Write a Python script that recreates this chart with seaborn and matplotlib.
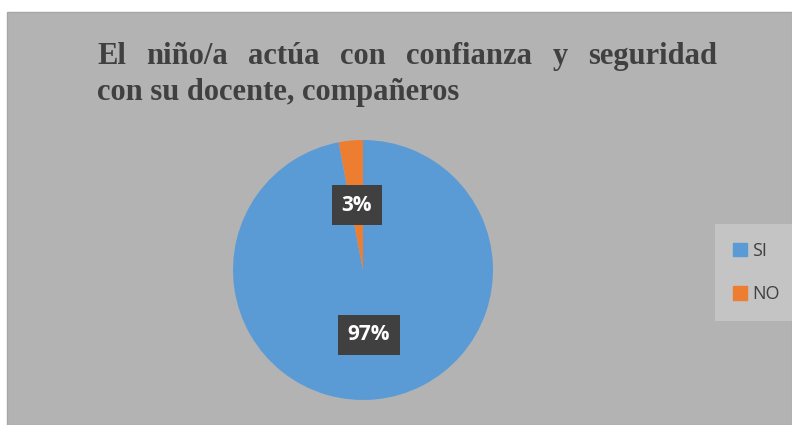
import matplotlib.pyplot as plt
import matplotlib.patches as mpatches
import seaborn as sns

# Data
categories = ["SI", "NO"]
values = [97, 3]
colors = ["#5b9bd5", "#ed7d31"]
title_line1 = "El niño/a actúa con confianza y seguridad"
title_line2 = "con su docente, compañeros"

sns.set_theme(style="white")
plt.rcParams['font.family'] = ['Open Sans', 'DejaVu Sans']

W, H = 792, 425
fig = plt.figure(figsize=(W / 100, H / 100), dpi=100, facecolor="white")

# gray chart area
bg = mpatches.Rectangle((7 / W, 0), 1 - 7 / W, 1 - 12 / H, transform=fig.transFigure,
                        facecolor="#b3b3b3", edgecolor="#a6a6a6", lw=1, zorder=-10)
fig.patches.append(bg)

# pie axes: centre (363, 270), radius 130 px
ax = fig.add_axes([(363 - 130) / W, (H - 400) / H, 260 / W, 260 / H])
ax.set_facecolor("none")
ax.set_zorder(1)
wedges, texts, autotexts = ax.pie(values, colors=colors, startangle=90, counterclock=False,
                                  autopct="%1.0f%%", pctdistance=0.5,
                                  wedgeprops=dict(linewidth=0),
                                  textprops=dict(color="white", fontsize=15, fontweight="bold"))
for t in autotexts:
    t.set_bbox(dict(boxstyle="square,pad=0.45", facecolor="#404040", edgecolor="none"))
ax.set_xlim(-1, 1)
ax.set_ylim(-1, 1)
ax.set_aspect("equal")
ax.axis("off")

# title, first line justified between x=97 and x=717
title_kw = dict(fontsize=22, fontweight="bold", color="#404040",
                family=["Liberation Serif", "DejaVu Serif"], va="baseline")
words = title_line1.split()
fig.canvas.draw()
renderer = fig.canvas.get_renderer()
objs = [fig.text(0, 1 - 64 / H, w, **title_kw) for w in words]
widths = [o.get_window_extent(renderer).width for o in objs]
x0, x1 = 97, 717
gap = (x1 - x0 - sum(widths)) / (len(words) - 1)
x = x0
for o, w in zip(objs, widths):
    o.set_x(x / W)
    x += w + gap
fig.text(x0 / W, 1 - 100 / H, title_line2, **title_kw)

# legend
handles = [mpatches.Patch(color=c, label=l) for c, l in zip(colors, categories)]
leg = fig.legend(handles=handles, loc="upper left", bbox_to_anchor=(715 / W, 1 - 224 / H),
                 frameon=True, fontsize=13, handlelength=0.75, handleheight=0.75,
                 handletextpad=0.3, labelspacing=1.4, borderpad=1.0, fancybox=False,
                 borderaxespad=0)
leg.get_frame().set_facecolor("#c9c9c9")
leg.get_frame().set_edgecolor("none")
for t in leg.get_texts():
    t.set_color("#404040")

fig.savefig("out.png", dpi=100, facecolor="white")
